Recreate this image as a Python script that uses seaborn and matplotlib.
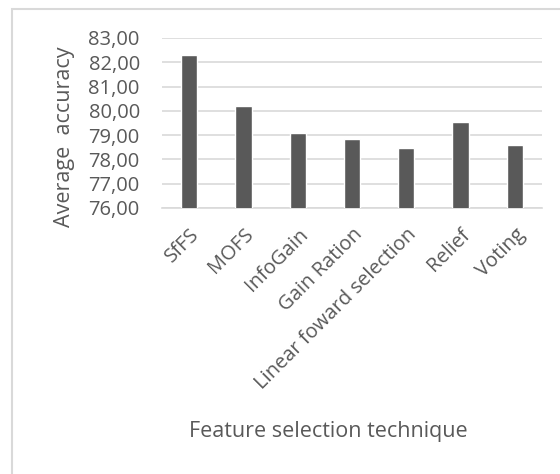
import matplotlib
matplotlib.use("Agg")
import matplotlib.pyplot as plt
from matplotlib.ticker import FuncFormatter, MultipleLocator
from matplotlib.patches import Rectangle
import seaborn as sns
import pandas as pd

techniques = ["SfFS", "MOFS", "InfoGain", "Gain Ration",
              "Linear foward selection", "Relief", "Voting"]
accuracy = [82.29, 80.18, 79.07, 78.86, 78.49, 79.55, 78.59]

df = pd.DataFrame({"technique": techniques, "accuracy": accuracy})

sns.set_theme(style="white")
plt.rcParams["font.family"] = ["Open Sans", "DejaVu Sans"]

text_col = "#595959"
grid_col = "#d9d9d9"

fig = plt.figure(figsize=(5.6, 4.74), dpi=100)
ax = fig.add_axes([162 / 560, 1 - 208 / 474, 380 / 560, 170 / 474])

sns.barplot(data=df, x="technique", y="accuracy", color="#595959",
            width=0.3, saturation=1, ax=ax, zorder=3)

ax.set_ylim(76, 83)
ax.yaxis.set_major_locator(MultipleLocator(1))
ax.yaxis.set_major_formatter(FuncFormatter(lambda v, p: f"{v:.2f}".replace(".", ",")))
ax.grid(axis="y", color=grid_col, linewidth=1.2, zorder=0)
ax.set_axisbelow(True)

for s in ["top", "right", "left"]:
    ax.spines[s].set_visible(False)
ax.spines["bottom"].set_color(grid_col)
ax.spines["bottom"].set_linewidth(1.2)

ax.tick_params(axis="y", length=0, pad=16, labelsize=14.5, labelcolor=text_col)
ax.tick_params(axis="x", length=0, pad=12, labelsize=14.5, labelcolor=text_col)
plt.setp(ax.get_xticklabels(), rotation=45, ha="right", rotation_mode="anchor")

ax.set_xlabel("Feature selection technique", fontsize=15.5, color=text_col)
ax.xaxis.set_label_coords((328 - 162) / 380, -(421 - 208) / 170)
ax.set_ylabel("Average  accuracy", fontsize=15.5, color=text_col)
ax.yaxis.set_label_coords(-(162 - 75) / 380, (208 - 137) / 170)

# outer chart frame
fig.patches.append(Rectangle((12 / 560, -0.1), 1.2, 1 - 9 / 474 + 0.1,
                             transform=fig.transFigure, fill=False,
                             edgecolor=grid_col, linewidth=1.5))

fig.savefig("out.png", dpi=100, facecolor="white")
